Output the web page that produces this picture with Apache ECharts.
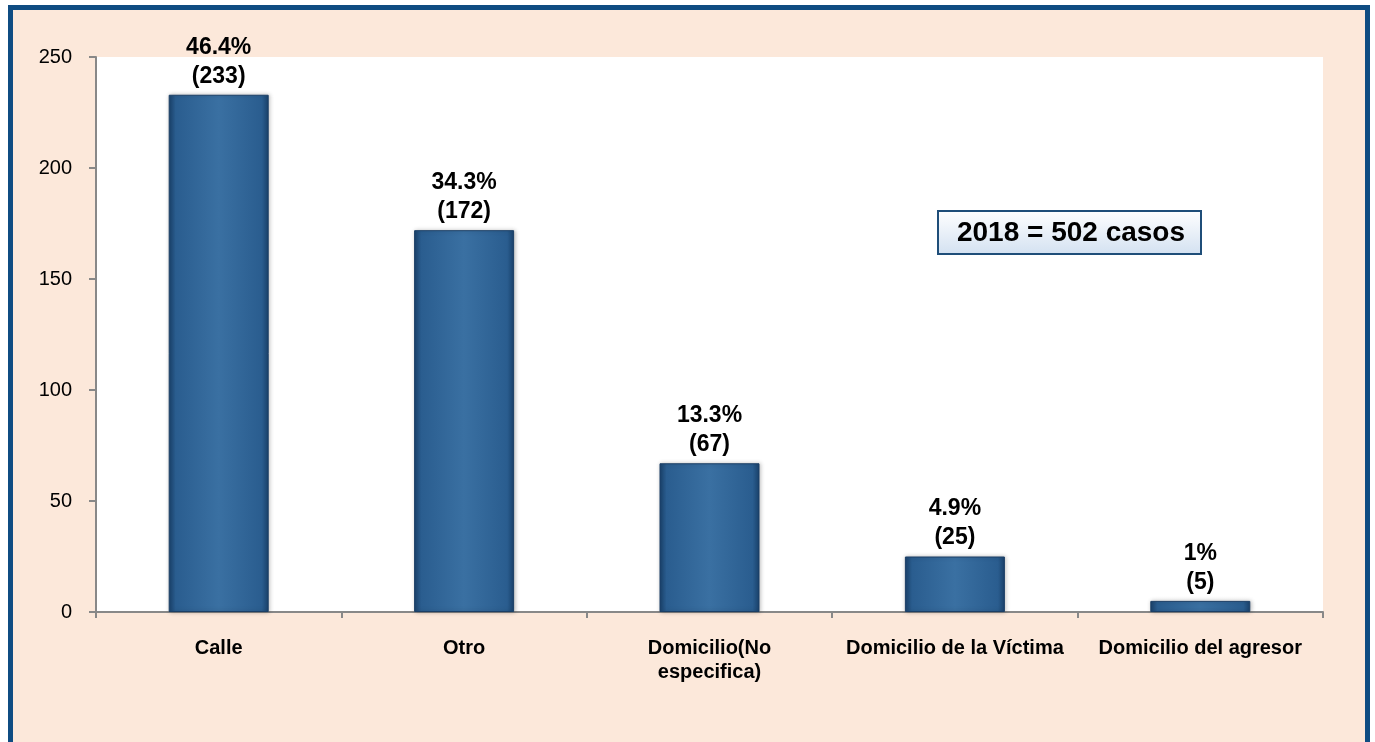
<!DOCTYPE html>
<html>
<head>
<meta charset="utf-8">
<script src="https://cdn.jsdelivr.net/npm/echarts@6/dist/echarts.min.js"></script>
<style>
  html, body { margin: 0; padding: 0; background: #ffffff; }
  #chart { width: 1375px; height: 742px; }
</style>
</head>
<body>
<div id="chart"></div>
<script>
// datos
var categorias = ['Calle', 'Otro', 'Domicilio(No\nespecifica)', 'Domicilio de la Víctima', 'Domicilio del agresor'];
var casos = [233, 172, 67, 25, 5];
var porcentajes = ['46.4%', '34.3%', '13.3%', '4.9%', '1%'];
var ejeY = [0, 50, 100, 150, 200, 250];

var myChart = echarts.init(document.getElementById('chart'));

var fuente = '"Liberation Sans", Arial, sans-serif';

myChart.setOption({
  animation: false,
  textStyle: { fontFamily: fuente },
  graphic: [
    {
      type: 'rect',
      z: -10,
      shape: { x: 10.5, y: 7.5, width: 1357, height: 770 },
      style: { fill: '#FCE8DA', stroke: '#0F4C82', lineWidth: 5 }
    },
    {
      type: 'group',
      left: 937,
      top: 210,
      children: [
        {
          type: 'rect',
          shape: { x: 0, y: 0, width: 263, height: 43 },
          style: {
            stroke: '#1F4E79',
            lineWidth: 2,
            fill: new echarts.graphic.LinearGradient(0, 0, 0, 1, [
              { offset: 0, color: '#FFFFFF' },
              { offset: 1, color: '#D3E1F1' }
            ])
          }
        },
        {
          type: 'text',
          x: 133,
          y: 22,
          style: {
            text: '2018 = 502 casos',
            fill: '#000',
            font: 'bold 28px ' + fuente,
            align: 'center',
            verticalAlign: 'middle'
          }
        }
      ]
    }
  ],
  grid: {
    left: 96,
    right: 52,
    top: 57,
    bottom: 130,
    show: true,
    backgroundColor: '#FFFFFF',
    borderWidth: 0
  },
  xAxis: {
    type: 'category',
    data: categorias,
    boundaryGap: true,
    axisLine: { show: true, lineStyle: { color: '#888888', width: 2 } },
    axisTick: { show: true, alignWithLabel: false, length: 6, lineStyle: { color: '#888888', width: 2 } },
    axisLabel: {
      interval: 0,
      margin: 24,
      color: '#000',
      fontWeight: 'bold',
      fontSize: 20,
      lineHeight: 24,
      fontFamily: fuente
    },
    splitLine: { show: false }
  },
  yAxis: {
    type: 'value',
    min: 0,
    max: 250,
    interval: 50,
    axisLine: { show: true, lineStyle: { color: '#888888', width: 2 } },
    axisTick: { show: true, length: 7, lineStyle: { color: '#888888', width: 2 } },
    axisLabel: {
      margin: 24,
      color: '#000',
      fontSize: 20,
      fontFamily: fuente,
      customValues: ejeY
    },
    splitLine: { show: false }
  },
  series: [
    {
      type: 'bar',
      data: casos,
      barWidth: 100,
      itemStyle: {
        color: new echarts.graphic.LinearGradient(0, 0, 1, 0, [
          { offset: 0, color: '#1A426C' },
          { offset: 0.07, color: '#2A5D8F' },
          { offset: 0.5, color: '#3A70A2' },
          { offset: 0.93, color: '#2A5D8F' },
          { offset: 1, color: '#1A426C' }
        ]),
        borderColor: '#1B3F66',
        borderWidth: 1,
        shadowColor: 'rgba(0,0,0,0.25)',
        shadowBlur: 4,
        shadowOffsetX: 1,
        shadowOffsetY: 0
      },
      label: {
        show: true,
        position: 'top',
        distance: 4,
        color: '#000',
        fontWeight: 'bold',
        fontSize: 23,
        lineHeight: 29,
        fontFamily: fuente,
        formatter: function (p) {
          return porcentajes[p.dataIndex] + '\n(' + p.value + ')';
        }
      }
    }
  ]
});
</script>
</body>
</html>
